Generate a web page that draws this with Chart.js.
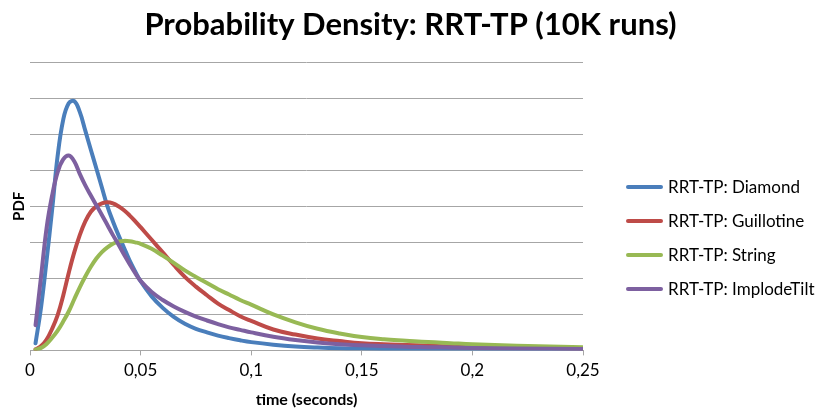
<!DOCTYPE html>
<html lang="en">
<head>
    <meta charset="UTF-8">
    <title>Probability Density: RRT-TP (10K runs)</title>
    <style>
        html, body { margin: 0; padding: 0; background: #fff; }
        #wrap { width: 821px; height: 414px; }
    </style>
</head>
<body>
<div id="wrap">
    <canvas id="pdfChart" width="821" height="414"></canvas>
</div>

<script src="https://cdn.jsdelivr.net/npm/chart.js@4/dist/chart.umd.min.js"></script>
<script>

    // sample times (seconds)
    var times = [0.0025, 0.005, 0.0075, 0.01, 0.0125, 0.015, 0.0175, 0.02, 0.0225, 0.025,
                 0.0275, 0.03, 0.0325, 0.035, 0.0375, 0.04, 0.0425, 0.045, 0.0475, 0.05,
                 0.055, 0.06, 0.065, 0.07, 0.075, 0.08, 0.085, 0.09, 0.095, 0.1,
                 0.11, 0.12, 0.13, 0.14, 0.15, 0.16, 0.17, 0.18, 0.19, 0.2,
                 0.22, 0.25];

    var diamond = [0.2, 1.2, 2.5, 3.9, 5.4, 6.4, 6.86, 6.92, 6.62, 6.1,
                   5.57, 5.05, 4.52, 4.0, 3.58, 3.2, 2.85, 2.5, 2.2, 1.92,
                   1.5, 1.18, 0.93, 0.74, 0.6, 0.5, 0.41, 0.34, 0.28, 0.23,
                   0.16, 0.11, 0.08, 0.06, 0.05, 0.04, 0.035, 0.03, 0.025, 0.02,
                   0.015, 0.01];

    var guillotine = [0.03, 0.12, 0.3, 0.6, 0.98, 1.52, 2.15, 2.72, 3.2, 3.58,
                      3.85, 4.0, 4.08, 4.11, 4.08, 4.0, 3.89, 3.75, 3.59, 3.42,
                      3.07, 2.72, 2.37, 2.04, 1.77, 1.53, 1.3, 1.12, 0.95, 0.82,
                      0.58, 0.44, 0.33, 0.26, 0.2, 0.17, 0.15, 0.13, 0.11, 0.1,
                      0.08, 0.05];

    var stringSeries = [0.02, 0.07, 0.18, 0.35, 0.55, 0.8, 1.08, 1.42, 1.75, 2.05,
                        2.32, 2.55, 2.73, 2.86, 2.96, 3.02, 3.04, 3.03, 3.0, 2.96,
                        2.82, 2.63, 2.43, 2.22, 2.04, 1.87, 1.7, 1.55, 1.4, 1.27,
                        1.0, 0.78, 0.6, 0.47, 0.37, 0.31, 0.27, 0.23, 0.2, 0.17,
                        0.13, 0.09];

    var implodeTilt = [0.7, 2.05, 3.4, 4.3, 4.95, 5.3, 5.41, 5.25, 4.9, 4.58,
                       4.3, 4.03, 3.76, 3.48, 3.2, 2.94, 2.66, 2.4, 2.15, 1.93,
                       1.62, 1.4, 1.22, 1.07, 0.94, 0.83, 0.73, 0.64, 0.57, 0.5,
                       0.38, 0.29, 0.22, 0.17, 0.14, 0.12, 0.1, 0.09, 0.08, 0.07,
                       0.05, 0.04];

    var xTicks = [0, 0.05, 0.1, 0.15, 0.2, 0.25];

    var seriesNames = ['RRT-TP: Diamond', 'RRT-TP: Guillotine', 'RRT-TP: String', 'RRT-TP: ImplodeTilt'];
    var seriesColors = ['#4a7ebb', '#be4b48', '#98b954', '#7d60a0'];
    var seriesValues = [diamond, guillotine, stringSeries, implodeTilt];

    var gridGray = '#a6a6a6';
    var font = 'Lato, "Open Sans", sans-serif';

    function toPoints(values) {
        return values.map(function (v, i) { return { x: times[i], y: v }; });
    }

    var datasets = seriesValues.map(function (values, i) {
        return {
            label: seriesNames[i],
            data: toPoints(values),
            borderColor: seriesColors[i],
            backgroundColor: seriesColors[i],
            borderWidth: 4,
            borderCapStyle: 'round',
            pointRadius: 0,
            tension: 0.4,
            fill: false,
            // later series drawn on top
            order: seriesValues.length - i
        };
    });

    // legend on the right: short line sample + label, one row per series
    var sideLegend = {
        id: 'sideLegend',
        afterDraw: function (chart) {
            var c = chart.ctx;
            var x0 = 626, lineLen = 37, gap = 5;
            var rowTop = 187, rowStep = 34;
            c.save();
            c.font = 'normal 400 17px Lato';
            c.textAlign = 'left';
            c.textBaseline = 'middle';
            c.lineCap = 'round';
            c.lineWidth = 4;
            chart.data.datasets.forEach(function (ds, i) {
                var y = rowTop + i * rowStep;
                c.strokeStyle = ds.borderColor;
                c.beginPath();
                c.moveTo(x0 + 2, y);
                c.lineTo(x0 + lineLen - 2, y);
                c.stroke();
                c.fillStyle = '#000';
                c.fillText(ds.label, x0 + lineLen + gap, y + 1);
            });
            c.restore();
        }
    };

    var ctx = document.getElementById('pdfChart').getContext('2d');
    var chart = new Chart(ctx, {
        type: 'line',
        data: { datasets: datasets },
        options: {
            responsive: false,
            animation: false,
            layout: { padding: { left: 0, right: 0, top: 4, bottom: 5 } },
            plugins: {
                title: {
                    display: true,
                    text: 'Probability Density: RRT-TP (10K runs)',
                    color: '#000',
                    font: { family: font, size: 31, weight: 'bold' },
                    padding: { top: 2, bottom: 19 }
                },
                legend: { display: false },
                tooltip: { enabled: false }
            },
            scales: {
                x: {
                    type: 'linear',
                    min: 0,
                    max: 0.25,
                    afterBuildTicks: function (axis) {
                        axis.ticks = xTicks.map(function (v) { return { value: v }; });
                    },
                    ticks: {
                        color: '#000',
                        font: { family: font, size: 17 },
                        padding: 5,
                        maxRotation: 0,
                        callback: function (v) { return String(+v.toFixed(2)).replace('.', ','); }
                    },
                    grid: { drawOnChartArea: false, drawTicks: true, tickLength: 5, color: gridGray },
                    border: { display: true, color: gridGray, width: 1 },
                    title: {
                        display: true,
                        text: 'time (seconds)',
                        color: '#000',
                        font: { family: font, size: 16, weight: 'bold' },
                        padding: { top: 4, bottom: 0 }
                    }
                },
                y: {
                    min: 0,
                    max: 8,
                    ticks: { display: false, stepSize: 1 },
                    grid: { color: gridGray, lineWidth: 1, drawTicks: false },
                    border: { display: false },
                    title: {
                        display: true,
                        text: 'PDF',
                        color: '#000',
                        font: { family: font, size: 15, weight: 'bold' },
                        padding: { top: 10, bottom: 2 }
                    }
                },
                // empty right-hand axis that only keeps room for the legend
                legendSpace: {
                    position: 'right',
                    min: 0,
                    max: 1,
                    ticks: { display: false },
                    grid: { display: false, drawTicks: false },
                    border: { display: false },
                    afterFit: function (scale) { scale.width = 238; }
                }
            }
        },
        plugins: [sideLegend]
    });

</script>
</body>
</html>
